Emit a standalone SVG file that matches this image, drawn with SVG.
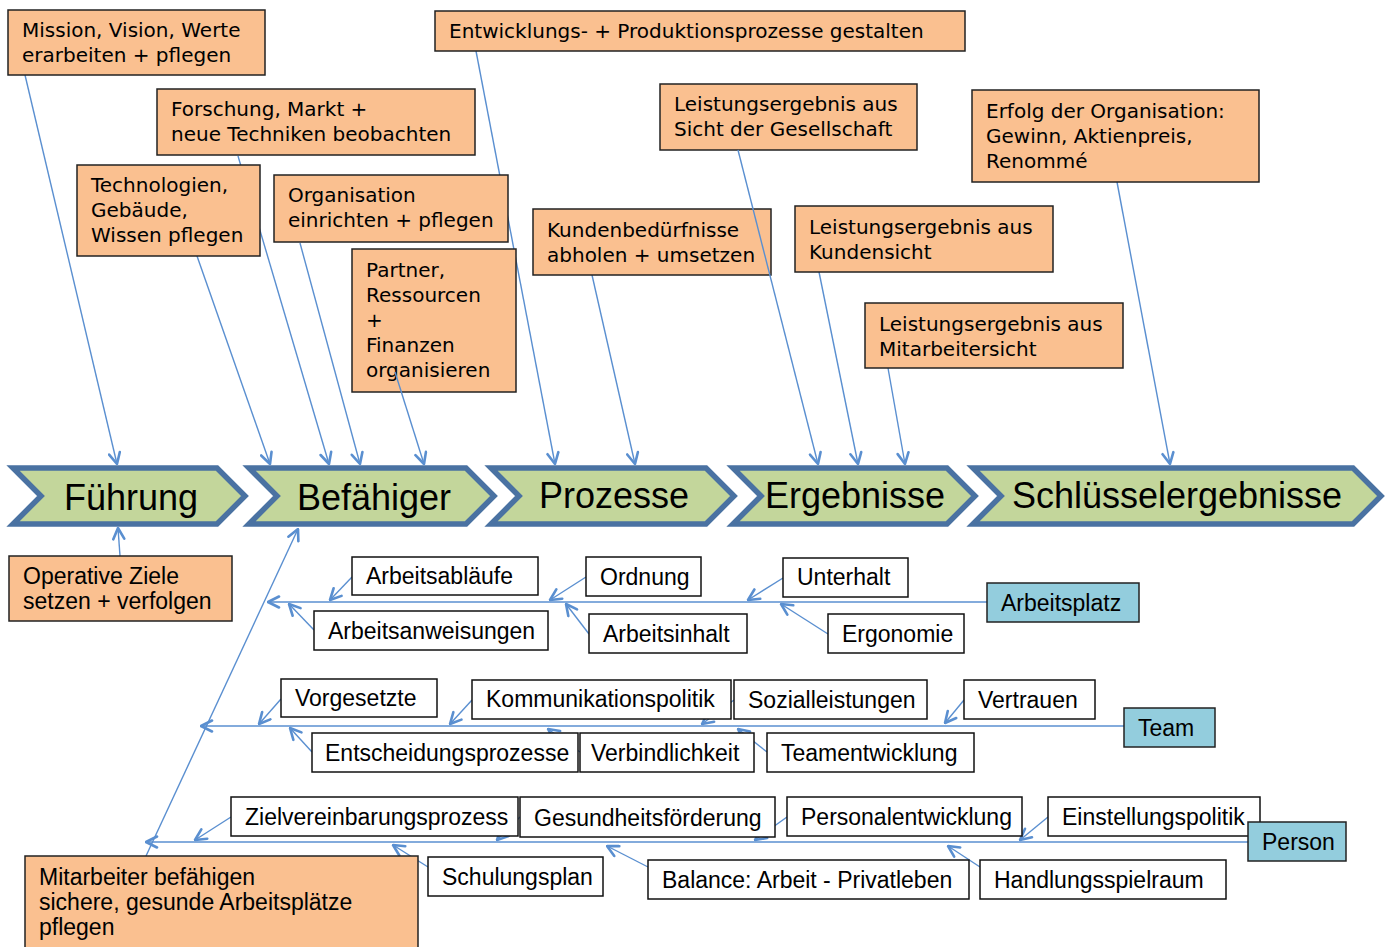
<svg xmlns="http://www.w3.org/2000/svg" width="1389" height="947" viewBox="0 0 1389 947">
<style>
.o{fill:#FAC090;stroke:#222;stroke-width:1.5}
.w{fill:#fff;stroke:#111;stroke-width:1.5}
.b{fill:#93CDDD;stroke:#222;stroke-width:1.5}
.c{fill:#C3D69B;stroke:#4A72A2;stroke-width:5.5;stroke-linejoin:miter}
.t{font-family:"DejaVu Sans","Liberation Sans",sans-serif;font-size:20px;fill:#000}
.s{font-family:"Liberation Sans",Arial,sans-serif;font-size:23px;fill:#000}
.h{font-family:"Liberation Sans",Arial,sans-serif;font-size:36px;fill:#000;text-anchor:middle}
.l{fill:none;stroke:#5A8FD0;stroke-width:1.4;marker-end:url(#a)}
</style>
<defs>
<marker id="a" viewBox="0 0 14 14" refX="13" refY="7" markerWidth="14" markerHeight="14" markerUnits="userSpaceOnUse" orient="auto">
<path d="M2,1.5 L13,7 L2,12.5" fill="none" stroke="#5A8FD0" stroke-width="2.6" stroke-linecap="round" stroke-linejoin="round"/>
</marker>
</defs>
<rect width="1389" height="947" fill="#fff"/>

<g id="connectors-back">
<line class="l" x1="25" y1="75" x2="117" y2="464"/>
<line class="l" x1="238" y1="156" x2="329" y2="464"/>
<line class="l" x1="197" y1="256" x2="270" y2="464"/>
<line class="l" x1="300" y1="243" x2="360" y2="464"/>
<line class="l" x1="476" y1="51" x2="555" y2="464"/>
<line class="l" x1="592" y1="275" x2="635" y2="464"/>
<line class="l" x1="819" y1="272" x2="858" y2="464"/>
<line class="l" x1="888" y1="368" x2="905" y2="464"/>
<line class="l" x1="1117" y1="182" x2="1170" y2="464"/>
<line class="l" x1="120" y1="556" x2="118" y2="528"/>
<line class="l" x1="146" y1="856" x2="298" y2="529"/>
<line class="l" x1="987" y1="602" x2="268" y2="602"/>
<line class="l" x1="352" y1="577" x2="330" y2="600"/>
<line class="l" x1="314" y1="630" x2="289" y2="604"/>
<line class="l" x1="586" y1="577" x2="550" y2="600"/>
<line class="l" x1="589" y1="634" x2="566" y2="604"/>
<line class="l" x1="783" y1="578" x2="748" y2="600"/>
<line class="l" x1="828" y1="634" x2="781" y2="604"/>
<line class="l" x1="1124" y1="726" x2="201" y2="726"/>
<line class="l" x1="281" y1="699" x2="259" y2="724"/>
<line class="l" x1="472" y1="700" x2="450" y2="724"/>
<line class="l" x1="734" y1="700" x2="702" y2="724"/>
<line class="l" x1="964" y1="700" x2="945" y2="723"/>
<line class="l" x1="312" y1="752" x2="290" y2="728"/>
<line class="l" x1="580" y1="752" x2="548" y2="729"/>
<line class="l" x1="767" y1="752" x2="738" y2="729"/>
<line class="l" x1="1248" y1="842" x2="146" y2="842"/>
<line class="l" x1="231" y1="817" x2="195" y2="840"/>
<line class="l" x1="520" y1="817" x2="497" y2="840"/>
<line class="l" x1="787" y1="817" x2="755" y2="840"/>
<line class="l" x1="1048" y1="817" x2="1020" y2="840"/>
<line class="l" x1="428" y1="867" x2="393" y2="845"/>
<line class="l" x1="648" y1="867" x2="607" y2="846"/>
<line class="l" x1="980" y1="867" x2="948" y2="846"/>
</g>

<g id="chev-fuehrung"><polygon class="c" points="13,468 217,468 245,496 217,524 13,524 41,496"/><text class="h" x="131" y="510">Führung</text></g>
<g id="chev-befaehiger"><polygon class="c" points="249,468 466,468 494,496 466,524 249,524 277,496"/><text class="h" x="374" y="510">Befähiger</text></g>
<g id="chev-prozesse"><polygon class="c" points="491,468 706,468 734,496 706,524 491,524 519,496"/><text class="h" x="614" y="508">Prozesse</text></g>
<g id="chev-ergebnisse"><polygon class="c" points="733,468 947,468 975,496 947,524 733,524 761,496"/><text class="h" x="855" y="508">Ergebnisse</text></g>
<g id="chev-schluessel"><polygon class="c" points="973,468 1353,468 1381,496 1353,524 973,524 1001,496"/><text class="h" x="1177" y="508">Schlüsselergebnisse</text></g>

<g id="n-mission"><rect class="o" x="8" y="10" width="257" height="65"/><text class="t" x="22" y="37">Mission, Vision, Werte</text><text class="t" x="22" y="62">erarbeiten + pflegen</text></g>
<g id="n-forschung"><rect class="o" x="157" y="89" width="318" height="66"/><text class="t" x="171" y="116">Forschung, Markt +</text><text class="t" x="171" y="141">neue Techniken beobachten</text></g>
<g id="n-technologien"><rect class="o" x="77" y="165" width="183" height="91"/><text class="t" x="91" y="192">Technologien,</text><text class="t" x="91" y="217">Gebäude,</text><text class="t" x="91" y="242">Wissen pflegen</text></g>
<g id="n-organisation"><rect class="o" x="274" y="175" width="234" height="67"/><text class="t" x="288" y="202">Organisation</text><text class="t" x="288" y="227">einrichten + pflegen</text></g>
<g id="n-partner"><rect class="o" x="352" y="249" width="164" height="143"/><text class="t" x="366" y="277">Partner,</text><text class="t" x="366" y="302">Ressourcen</text><text class="t" x="366" y="327">+</text><text class="t" x="366" y="352">Finanzen</text><text class="t" x="366" y="377">organisieren</text></g>
<g id="n-entwicklung"><rect class="o" x="435" y="11" width="530" height="40"/><text class="t" x="449" y="38">Entwicklungs- + Produktionsprozesse gestalten</text></g>
<g id="n-gesellschaft"><rect class="o" x="660" y="84" width="257" height="66"/><text class="t" x="674" y="111">Leistungsergebnis aus</text><text class="t" x="674" y="136">Sicht der Gesellschaft</text></g>
<g id="n-erfolg"><rect class="o" x="972" y="90" width="287" height="92"/><text class="t" x="986" y="118">Erfolg der Organisation:</text><text class="t" x="986" y="143">Gewinn, Aktienpreis,</text><text class="t" x="986" y="168">Renommé</text></g>
<g id="n-kunden"><rect class="o" x="533" y="209" width="238" height="66"/><text class="t" x="547" y="237">Kundenbedürfnisse</text><text class="t" x="547" y="262">abholen + umsetzen</text></g>
<g id="n-kundensicht"><rect class="o" x="795" y="206" width="258" height="66"/><text class="t" x="809" y="234">Leistungsergebnis aus</text><text class="t" x="809" y="259">Kundensicht</text></g>
<g id="n-mitarbeitersicht"><rect class="o" x="865" y="303" width="258" height="65"/><text class="t" x="879" y="331">Leistungsergebnis aus</text><text class="t" x="879" y="356">Mitarbeitersicht</text></g>
<g id="n-operative"><rect class="o" x="9" y="556" width="223" height="65"/><text class="s" x="23" y="584">Operative Ziele</text><text class="s" x="23" y="609">setzen + verfolgen</text></g>
<g id="n-mitarbeiter"><rect class="o" x="25" y="856" width="393" height="100"/><text class="s" x="39" y="885">Mitarbeiter befähigen</text><text class="s" x="39" y="910">sichere, gesunde Arbeitsplätze</text><text class="s" x="39" y="935">pflegen</text></g>

<g id="n-arbeitsablaeufe"><rect class="w" x="352" y="557" width="186" height="38"/><text class="s" x="366" y="584">Arbeitsabläufe</text></g>
<g id="n-arbeitsanweisungen"><rect class="w" x="314" y="611" width="234" height="39"/><text class="s" x="328" y="639">Arbeitsanweisungen</text></g>
<g id="n-ordnung"><rect class="w" x="586" y="557" width="115" height="39"/><text class="s" x="600" y="585">Ordnung</text></g>
<g id="n-arbeitsinhalt"><rect class="w" x="589" y="614" width="158" height="39"/><text class="s" x="603" y="642">Arbeitsinhalt</text></g>
<g id="n-unterhalt"><rect class="w" x="783" y="558" width="125" height="39"/><text class="s" x="797" y="585">Unterhalt</text></g>
<g id="n-ergonomie"><rect class="w" x="828" y="614" width="136" height="39"/><text class="s" x="842" y="642">Ergonomie</text></g>
<g id="n-arbeitsplatz"><rect class="b" x="987" y="583" width="152" height="39"/><text class="s" x="1001" y="611">Arbeitsplatz</text></g>

<g id="n-vorgesetzte"><rect class="w" x="281" y="679" width="156" height="38"/><text class="s" x="295" y="706">Vorgesetzte</text></g>
<g id="n-kommunikation"><rect class="w" x="472" y="680" width="259" height="39"/><text class="s" x="486" y="707">Kommunikationspolitik</text></g>
<g id="n-sozial"><rect class="w" x="734" y="680" width="193" height="39"/><text class="s" x="748" y="708">Sozialleistungen</text></g>
<g id="n-vertrauen"><rect class="w" x="964" y="680" width="131" height="39"/><text class="s" x="978" y="708">Vertrauen</text></g>
<g id="n-team"><rect class="b" x="1124" y="708" width="91" height="39"/><text class="s" x="1138" y="736">Team</text></g>
<g id="n-entscheidung"><rect class="w" x="312" y="733" width="266" height="39"/><text class="s" x="325" y="761">Entscheidungsprozesse</text></g>
<g id="n-verbindlichkeit"><rect class="w" x="580" y="733" width="174" height="39"/><text class="s" x="591" y="761">Verbindlichkeit</text></g>
<g id="n-teamentwicklung"><rect class="w" x="767" y="733" width="207" height="39"/><text class="s" x="781" y="761">Teamentwicklung</text></g>

<g id="n-ziel"><rect class="w" x="231" y="797" width="287" height="39"/><text class="s" x="245" y="825">Zielvereinbarungsprozess</text></g>
<g id="n-gesundheit"><rect class="w" x="520" y="797" width="255" height="40"/><text class="s" x="534" y="826">Gesundheitsförderung</text></g>
<g id="n-personal"><rect class="w" x="787" y="797" width="235" height="39"/><text class="s" x="801" y="825">Personalentwicklung</text></g>
<g id="n-einstellung"><rect class="w" x="1048" y="797" width="212" height="39"/><text class="s" x="1062" y="825">Einstellungspolitik</text></g>
<g id="n-person"><rect class="b" x="1248" y="822" width="98" height="39"/><text class="s" x="1262" y="850">Person</text></g>
<g id="n-schulung"><rect class="w" x="428" y="857" width="175" height="39"/><text class="s" x="442" y="885">Schulungsplan</text></g>
<g id="n-balance"><rect class="w" x="648" y="860" width="321" height="39"/><text class="s" x="662" y="888">Balance: Arbeit - Privatleben</text></g>
<g id="n-handlung"><rect class="w" x="980" y="860" width="246" height="39"/><text class="s" x="994" y="888">Handlungsspielraum</text></g>

<g id="connectors-front">
<line class="l" x1="738" y1="150" x2="818" y2="464"/>
<line class="l" x1="395" y1="372" x2="424" y2="464"/>
</g>
</svg>
